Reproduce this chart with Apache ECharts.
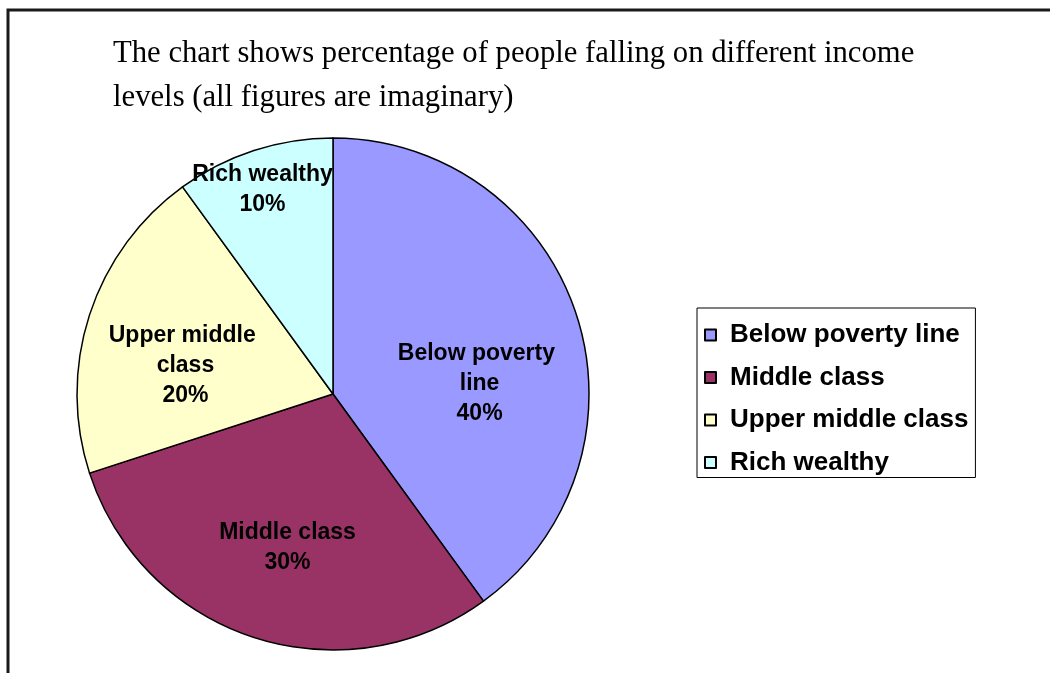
<!DOCTYPE html>
<html>
<head>
<meta charset="utf-8">
<script src="https://cdn.jsdelivr.net/npm/echarts@6/dist/echarts.min.js"></script>
<style>
html,body{margin:0;padding:0;background:#fff;}
#chart{width:1050px;height:673px;}
</style>
</head>
<body>
<div id="chart"></div>
<script>
const categories = ['Below poverty line', 'Middle class', 'Upper middle class', 'Rich wealthy'];
const values = [40, 30, 20, 10];
const colors = ['#9999FF', '#993366', '#FFFFCC', '#CCFFFF'];
const labelOffsets = [[22, 30], [-5, 29], [-23, 12], [-30, -80]];
const titleText = 'The chart shows percentage of people falling on different income\nlevels (all figures are imaginary)';

const chart = echarts.init(document.getElementById('chart'));
const data = categories.map((c, i) => ({
  name: c,
  value: values[i],
  itemStyle: { color: colors[i] },
  label: { offset: labelOffsets[i] }
}));

chart.setOption({
  animation: false,
  backgroundColor: '#ffffff',
  title: {
    text: titleText,
    left: 108,
    top: 27,
    textStyle: {
      fontFamily: 'Liberation Serif',
      fontSize: 30.7,
      fontWeight: 'normal',
      color: '#000',
      lineHeight: 44
    }
  },
  graphic: [{
    type: 'polyline',
    shape: { points: [[8, 673], [8, 10], [1050, 10]] },
    style: { stroke: '#1a1a1a', lineWidth: 3, fill: null }
  }],
  legend: {
    orient: 'vertical',
    left: 697,
    top: 308,
    padding: [14, 7, 2, 7],
    itemGap: 16.5,
    itemWidth: 11,
    itemHeight: 11,
    icon: 'rect',
    backgroundColor: '#fff',
    borderColor: '#000',
    borderWidth: 1,
    borderRadius: 0,
    selectedMode: false,
    textStyle: {
      fontFamily: 'Liberation Sans',
      fontWeight: 'bold',
      fontSize: 26,
      color: '#000',
      padding: [0, 0, 0, 9]
    },
    data: categories
  },
  series: [{
    type: 'pie',
    center: [333, 394],
    radius: 256,
    startAngle: 90,
    clockwise: true,
    avoidLabelOverlap: false,
    itemStyle: { borderColor: '#000', borderWidth: 1.5 },
    emphasis: { disabled: true },
    label: {
      show: true,
      position: 'inside',
      formatter: '{b}\n{d}%',
      width: 170,
      overflow: 'break',
      fontFamily: 'Liberation Sans',
      fontWeight: 'bold',
      fontSize: 23,
      lineHeight: 30,
      color: '#000'
    },
    labelLine: { show: false },
    data: data
  }]
});
</script>
</body>
</html>
